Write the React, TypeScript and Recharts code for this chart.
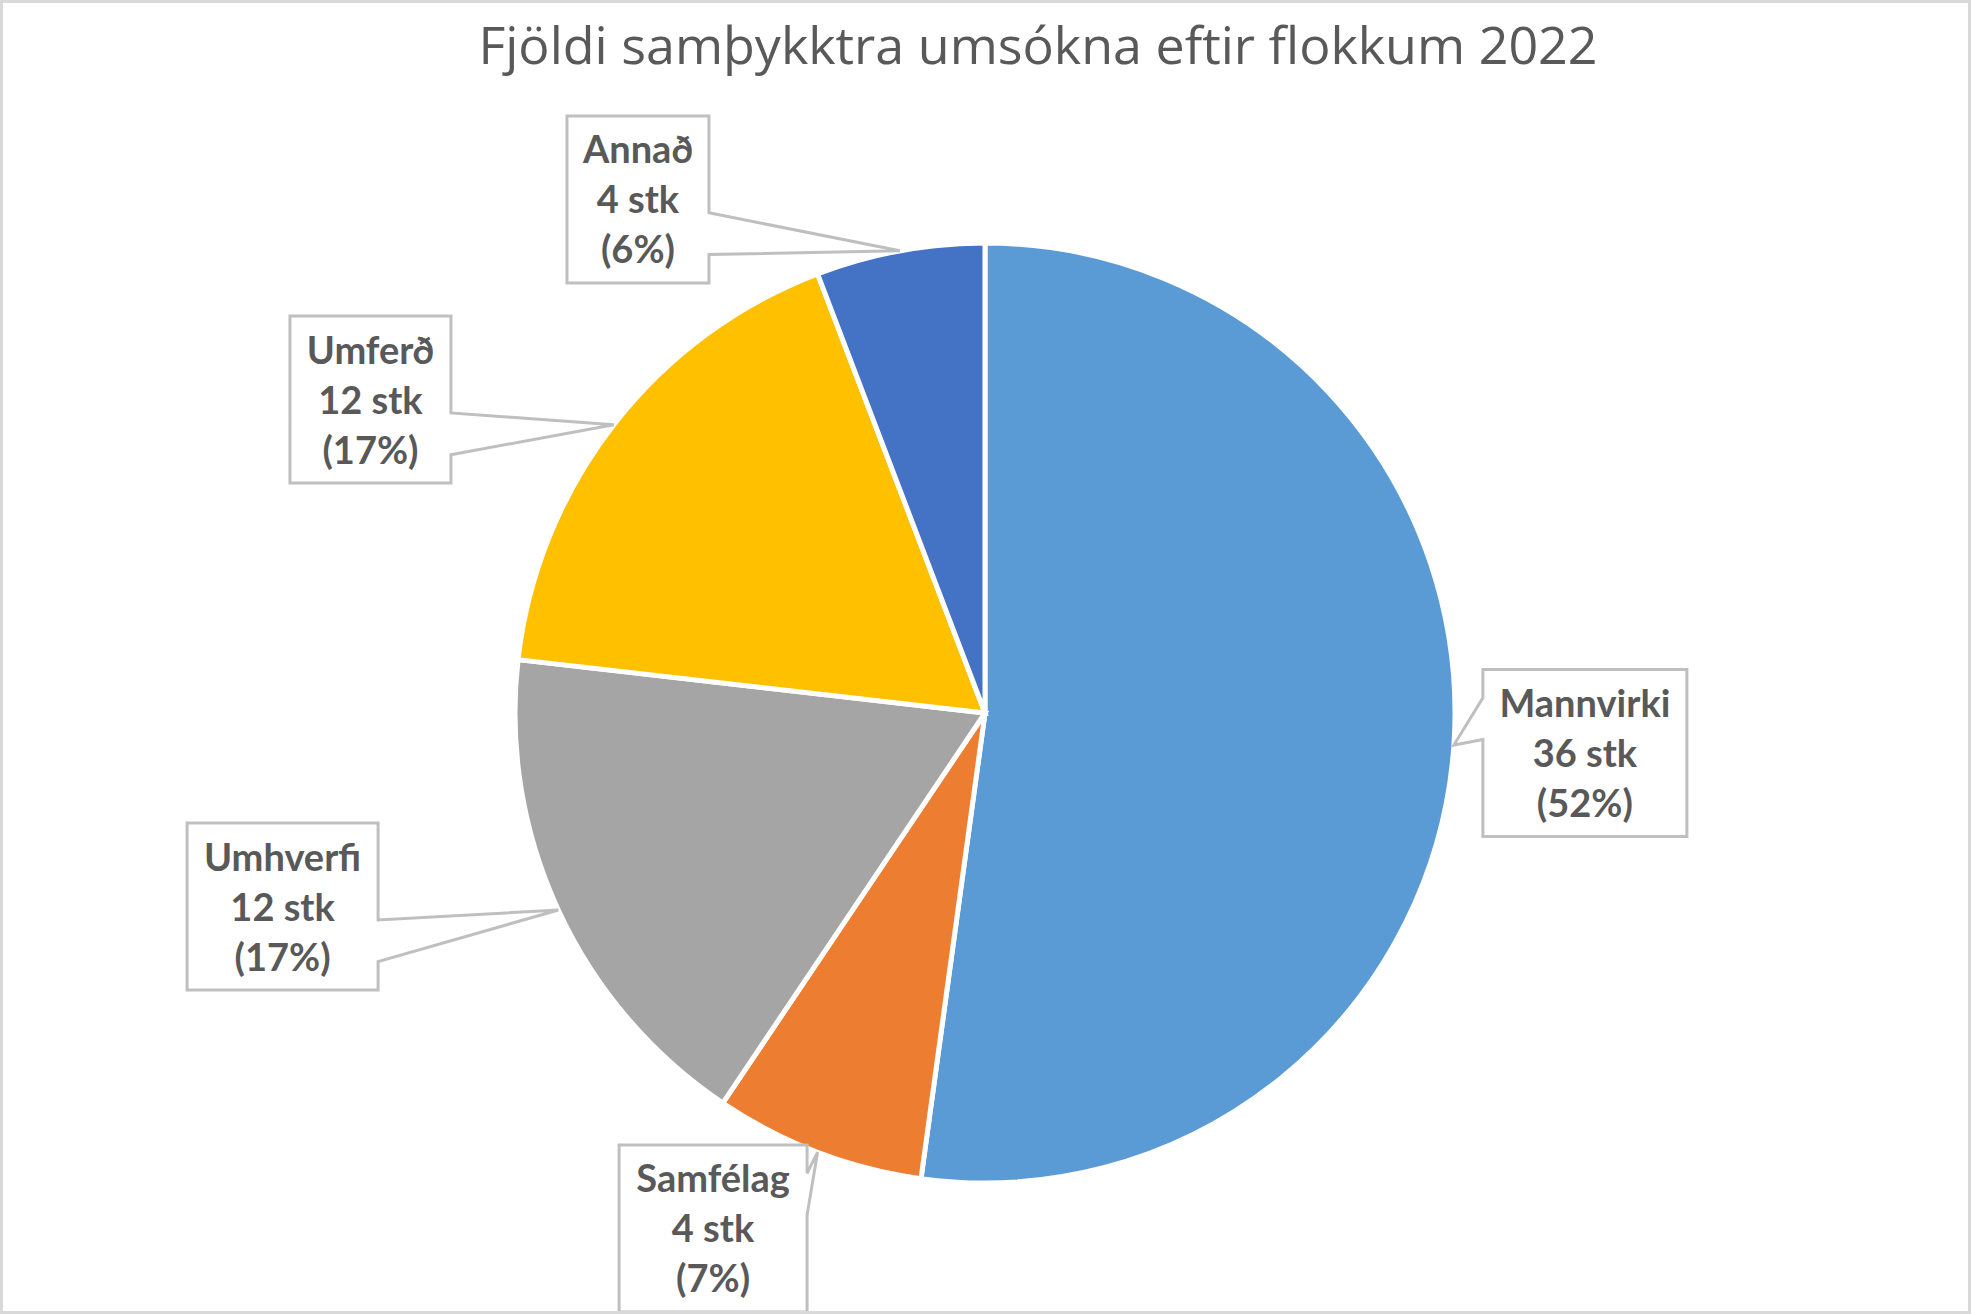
import React from "react";
import { PieChart, Pie, Cell } from "recharts";

// Categories and values
const categories = ["Mannvirki", "Samfélag", "Umhverfi", "Umferð", "Annað"];
// Slice sizes (angles in the picture match 36/5/12/12/4 of 69)
const sliceValues = [36, 5, 12, 12, 4];
// Counts as printed in the labels
const countLabels = ["36", "4", "12", "12", "4"];
const colors = ["#5B9BD5", "#ED7D31", "#A5A5A5", "#FFC000", "#4472C4"];
const title = "Fjöldi samþykktra umsókna eftir flokkum 2022";

// Callout layout: box centre offset from the slice tip, box width
const calloutLayout = [
  { dx: 131, dy: 7.9, w: 204 },
  { dx: -104.5, dy: 76.3, w: 188 },
  { dx: -275.7, dy: -3.5, w: 191 },
  { dx: -243.3, dy: -25.2, w: 161 },
  { dx: -261.9, dy: -51.3, w: 142 },
];

const data = categories.map((name, i) => ({
  name,
  value: sliceValues[i],
  count: countLabels[i],
}));

const RAD = Math.PI / 180;
const W = 1971;
const H = 1314;
const BOX_H = 167;
const TEXT_COLOR = "#595959";

function renderCallout(props: any) {
  const { cx, cy, midAngle, outerRadius, index, percent, payload } = props;
  const tx = cx + outerRadius * Math.cos(-midAngle * RAD);
  const ty = cy + outerRadius * Math.sin(-midAngle * RAD);
  const lay = calloutLayout[index];
  const bcx = tx + lay.dx;
  const bcy = ty + lay.dy;
  const x0 = bcx - lay.w / 2;
  const x1 = bcx + lay.w / 2;
  const y0 = bcy - BOX_H / 2;
  const y1 = bcy + BOX_H / 2;
  const upper = ty < bcy;
  const f1 = upper ? 0.17 : 0.58;
  const f2 = upper ? 0.42 : 0.83;
  const b1 = y0 + f1 * BOX_H;
  const b2 = y0 + f2 * BOX_H;
  let d: string;
  if (tx > x1) {
    d = `M${x0},${y0} L${x1},${y0} L${x1},${b1} L${tx},${ty} L${x1},${b2} L${x1},${y1} L${x0},${y1} Z`;
  } else {
    d = `M${x0},${y0} L${x1},${y0} L${x1},${y1} L${x0},${y1} L${x0},${b2} L${tx},${ty} L${x0},${b1} Z`;
  }
  const pct = Math.round(percent * 100);
  const name = payload?.name ?? categories[index];
  const count = payload?.count ?? countLabels[index];
  return (
    <g key={`callout-${index}`}>
      <path d={d} fill="#ffffff" stroke="#BFBFBF" strokeWidth={3} strokeLinejoin="miter" />
      <text
        textAnchor="middle"
        fill={TEXT_COLOR}
        fontFamily="Lato, 'Open Sans', sans-serif"
        fontWeight={700}
        fontSize={38}
      >
        <tspan x={bcx} y={bcy - 36}>{name}</tspan>
        <tspan x={bcx} y={bcy + 14}>{`${count} stk`}</tspan>
        <tspan x={bcx} y={bcy + 64}>{`(${pct}%)`}</tspan>
      </text>
    </g>
  );
}

export default function App() {
  return (
    <div style={{ position: "absolute", left: 0, top: 0, width: W, height: H, background: "#fff" }}>
      <PieChart width={W} height={H} margin={{ top: 0, right: 0, bottom: 0, left: 0 }}>
        <Pie
          data={data}
          dataKey="value"
          nameKey="name"
          cx={985}
          cy={713}
          outerRadius={470}
          startAngle={90}
          endAngle={-270}
          stroke="#ffffff"
          strokeWidth={5}
          label={renderCallout}
          labelLine={false}
          isAnimationActive={false}
        >
          {data.map((d, i) => (
            <Cell key={d.name} fill={colors[i]} />
          ))}
        </Pie>
      </PieChart>
      <svg
        width={W}
        height={90}
        style={{ position: "absolute", left: 0, top: 0, pointerEvents: "none" }}
      >
        <text
          x={1038}
          y={64}
          textAnchor="middle"
          fill={TEXT_COLOR}
          fontFamily="'Open Sans', sans-serif"
          fontWeight={400}
          fontSize={52}
        >
          {title}
        </text>
      </svg>
      <div
        style={{
          position: "absolute",
          left: 0,
          top: 0,
          width: W,
          height: H,
          boxSizing: "border-box",
          border: "3px solid #D9D9D9",
          pointerEvents: "none",
        }}
      />
    </div>
  );
}
